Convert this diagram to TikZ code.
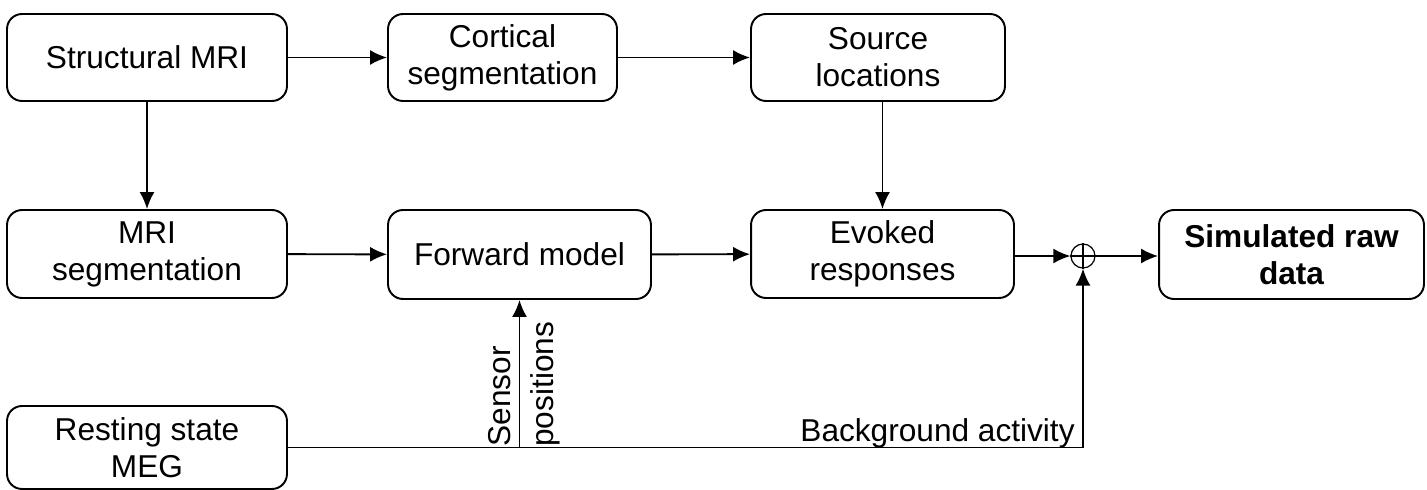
\documentclass[tikz,border=0pt]{standalone}
\usepackage{fontspec}
\setmainfont{Liberation Sans}
\usetikzlibrary{arrows.meta}
\begin{document}
\begin{tikzpicture}[x=0.02cm,y=-0.02cm,
  box/.style={draw, rounded corners=0.3cm, line width=1.1pt, align=center,
    font=\fontsize{18}{21}\selectfont, inner sep=0pt},
  lbl/.style={font=\fontsize{18}{21}\selectfont, inner sep=0pt},
  arr/.style={-{Latex[length=0.34cm,width=0.3cm]}, line width=1.1pt}]
\useasboundingbox (0,0) rectangle (1427,490);
\node[box, minimum width=5.6cm, minimum height=1.74cm] (smri) at (147,57.5) {Structural MRI};
\node[box, minimum width=4.58cm, minimum height=1.74cm] (cort) at (502.5,57.5) {Cortical\\segmentation};
\node[box, minimum width=5.08cm, minimum height=1.74cm] (src) at (878,57.5) {Source\\locations};
\node[box, minimum width=5.6cm, minimum height=1.76cm] (mseg) at (147,254) {MRI\\segmentation};
\node[box, minimum width=5.26cm, minimum height=1.78cm] (fwd) at (519.5,254.5) {Forward model};
\node[box, minimum width=5.26cm, minimum height=1.76cm] (evk) at (882.5,254) {Evoked\\responses};
\node[box, minimum width=5.3cm, minimum height=1.78cm, font=\fontsize{18}{21}\selectfont\bfseries] (sim) at (1291.5,254.5) {Simulated raw\\data};
\node[box, minimum width=5.6cm, minimum height=1.66cm] (rest) at (147,447.5) {Resting state\\MEG};
\node[circle, draw, line width=0.7pt, minimum size=0.48cm, inner sep=0pt] (sum) at (1083,256) {};
\draw[line width=0.7pt] (sum.north) -- (sum.south) (sum.west) -- (sum.east);

\draw[arr] (smri) -- (cort);
\draw[arr] (cort) -- (src);
\draw[arr] (smri) -- (mseg);
\draw[arr] (src.south -| evk.north) -- (evk.north);
\draw[arr] (mseg) -- (fwd);
\draw[arr] (fwd) -- (evk);
\draw[arr] (evk.east |- sum.west) -- (sum.west);
\draw[arr] (sum.east) -- (sim.west |- sum.east);
\draw[arr] (rest.east) -| (sum.south);
\draw[arr] (fwd.south |- rest.east) -- (fwd.south);

\node[lbl, rotate=90, anchor=south west] (sens) at (511,447) {Sensor};
\node[lbl, rotate=90, anchor=north west] (pos) at (530,447) {positions};
\node[lbl, anchor=base east] (bga) at (1075,441) {Background activity};
\end{tikzpicture}
\end{document}
